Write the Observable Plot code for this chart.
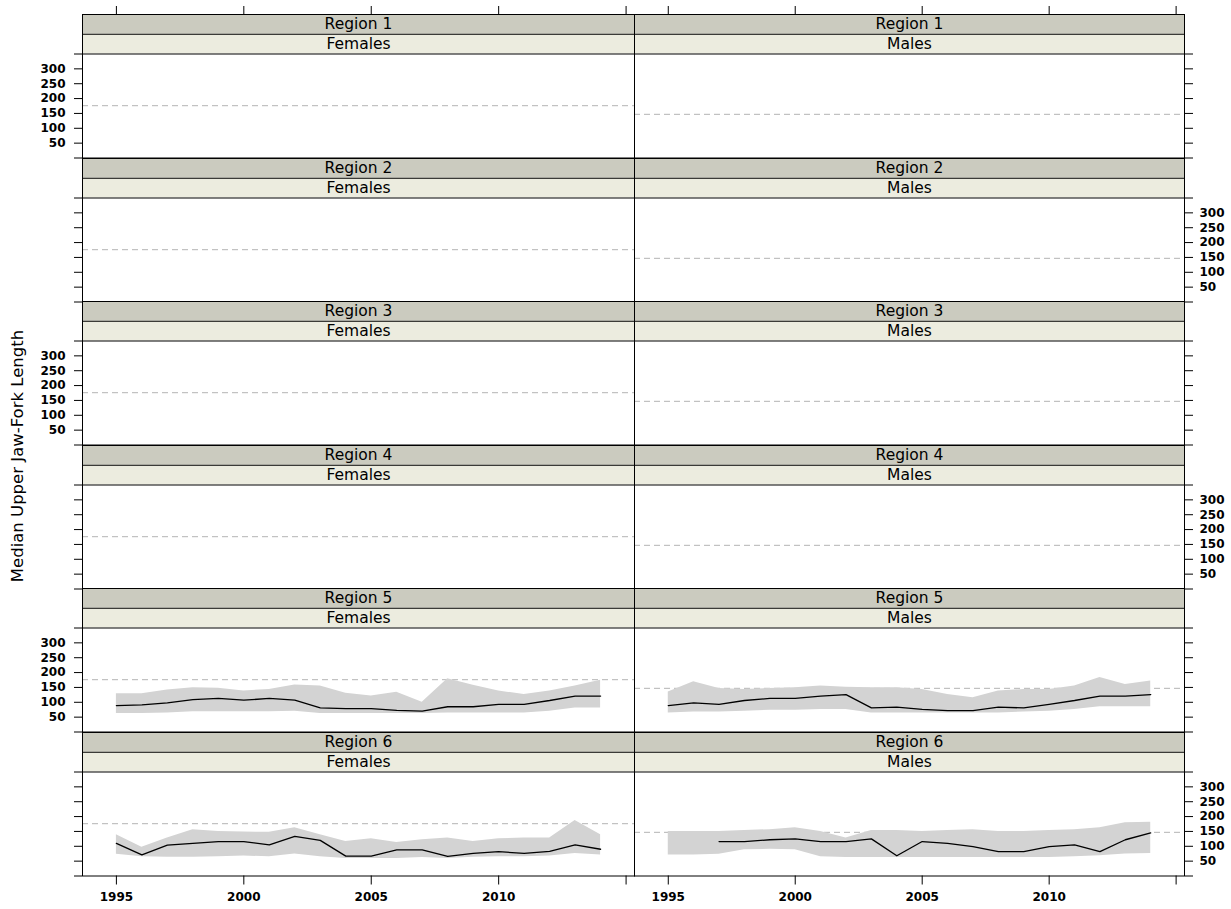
<!DOCTYPE html>
<html>
<head>
<meta charset="utf-8">
<script src="https://cdn.jsdelivr.net/npm/d3@7"></script>
<script src="https://cdn.jsdelivr.net/npm/@observablehq/plot@0.6"></script>
<style>
  body { margin: 0; background: #fff; }
  #wrap { position: relative; width: 1231px; height: 909px; overflow: hidden; font-family: "DejaVu Sans", sans-serif; }
  .cell { position: absolute; }
  #ylab { position: absolute; left: -142px; top: 446px; width: 320px; height: 20px; line-height: 20px;
          text-align: center; transform: rotate(-90deg); font-size: 16.5px; color: #000; white-space: nowrap; }
</style>
</head>
<body>
<div id="wrap"><div id="ylab">Median Upper Jaw-Fork Length</div></div>
<script>
// ---------- data ----------
const years = [1995,1996,1997,1998,1999,2000,2001,2002,2003,2004,2005,2006,2007,2008,2009,2010,2011,2012,2013,2014];
const regions = ["Region 1","Region 2","Region 3","Region 4","Region 5","Region 6"];
const sexes = ["Females","Males"];
const refFemales = 176;
const refMales = 147;
const yTicks = [0,50,100,150,200,250,300,350];
const yTickLabels = ["","50","100","150","200","250","300",""];
const xTicks = [1995,2000,2005,2010,2015];
const xTickLabels = ["1995","2000","2005","2010",""];
const yLabel = "Median Upper Jaw-Fork Length";

const r5FemMedian = [89,91,98,109,113,107,113,107,81,79,79,73,70,85,85,93,93,106,121,121];
const r5FemLow    = [62,62,64,68,68,68,68,70,62,62,62,62,62,64,64,64,64,70,81,81];
const r5FemHigh   = [129,129,141,149,147,138,143,158,155,130,121,134,100,179,157,138,126,138,155,174];

const r5MaleMedian = [89,98,93,106,113,113,121,126,81,84,76,72,72,84,81,93,106,121,121,126];
const r5MaleLow    = [64,67,67,70,73,73,76,76,64,64,64,64,64,64,67,70,76,85,85,85];
const r5MaleHigh   = [135,169,146,143,146,149,155,151,149,149,143,126,115,138,143,143,155,183,160,172];

const r6FemMedian = [110,71,104,110,116,116,105,133,120,67,67,88,88,66,76,82,76,83,105,90];
const r6FemLow    = [73,65,63,63,65,67,65,74,65,59,59,59,62,59,63,65,65,67,76,71];
const r6FemHigh   = [139,97,128,156,150,148,147,162,139,116,125,113,122,128,116,125,128,128,187,139];

const r6MaleMedian = [null,null,116,116,122,125,116,116,125,68,116,110,99,82,82,99,105,82,122,145];
const r6MaleLow    = [71,71,73,88,90,88,65,62,62,62,62,62,62,62,62,62,65,68,74,76];
const r6MaleHigh   = [150,150,150,153,156,162,150,128,153,153,150,153,156,150,150,153,156,162,179,181];

// build series tables
function table(med, lo, hi) {
  return years.map((y, i) => ({year: y, med: med[i], lo: lo[i], hi: hi[i]}));
}
const series = {
  "Region 5|Females": table(r5FemMedian, r5FemLow, r5FemHigh),
  "Region 5|Males": table(r5MaleMedian, r5MaleLow, r5MaleHigh),
  "Region 6|Females": table(r6FemMedian, r6FemLow, r6FemHigh),
  "Region 6|Males": table(r6MaleMedian, r6MaleLow, r6MaleHigh)
};

// ---------- layout ----------
const X0 = 82, XM = 634, X1 = 1184, W = 1231;
const P = 104, H = 19.75, T0 = 14;
const rowH = P + 2 * H;
const S = 350 * H / P;             // strip height in data units
const yMax = 350 + 2 * S;
const xDomain = [1993.67, 2015.33];
const xMid = (xDomain[0] + xDomain[1]) / 2;

const wrap = document.getElementById("wrap");

regions.forEach((region, r) => {
  sexes.forEach((sex, c) => {
    const mt = r === 0 ? 12 : 0;
    const mb = r === regions.length - 1 ? 34 : 0;
    const left = c === 0 ? 0 : XM;
    const width = c === 0 ? XM : W - XM;
    const marginLeft = c === 0 ? X0 : 0;
    const marginRight = c === 0 ? 0 : width - (X1 - XM);
    const ref = sex === "Females" ? refFemales : refMales;
    const data = series[region + "|" + sex];
    const labelSide = (r % 2 === 0) ? "left" : "right";
    const tickSide = c === 0 ? "left" : "right";

    const marks = [
      Plot.rect([region], {x1: xDomain[0], x2: xDomain[1], y1: 350 + S, y2: yMax, fill: "#cbcbbf"}),
      Plot.rect([sex], {x1: xDomain[0], x2: xDomain[1], y1: 350, y2: 350 + S, fill: "#ececdf"}),
      Plot.text([region], {x: xMid, y: 350 + 1.5 * S, text: d => d, fontSize: 15.5, fill: "#000"}),
      Plot.text([sex], {x: xMid, y: 350 + 0.5 * S, text: d => d, fontSize: 15.5, fill: "#000"}),
      Plot.ruleY([ref], {stroke: "#b4b4b4", strokeDasharray: "6,4", strokeWidth: 1})
    ];
    if (data) {
      marks.push(Plot.areaY(data, {x: "year", y1: "lo", y2: "hi", fill: "#d3d3d3"}));
      marks.push(Plot.line(data, {x: "year", y: "med", stroke: "#000", strokeWidth: 1.3}));
    }
    marks.push(Plot.ruleY([350, 350 + S], {stroke: "#000", strokeWidth: 1}));
    marks.push(Plot.frame({stroke: "#000", strokeWidth: 1}));
    marks.push(Plot.axisY({
      anchor: tickSide, ticks: yTicks, tickSize: 8, tickPadding: tickSide === "left" ? 9 : 7,
      fontSize: 12, fontWeight: "bold", label: null,
      tickFormat: (d) => (tickSide === labelSide ? yTickLabels[yTicks.indexOf(d)] : "")
    }));
    let xOpt = {domain: xDomain};
    if (r === 0) {
      marks.push(Plot.axisX({anchor: "top", ticks: xTicks, tickSize: 9, tickFormat: () => "", label: null}));
    } else if (r === regions.length - 1) {
      marks.push(Plot.axisX({anchor: "bottom", ticks: xTicks, tickSize: 9, tickPadding: 7, fontSize: 12,
        fontWeight: "bold", label: null,
        tickFormat: (d) => xTickLabels[xTicks.indexOf(d)]}));
    } else {
      xOpt.axis = null;
    }

    const chart = Plot.plot({
      width, height: rowH + mt + mb,
      marginLeft, marginRight, marginTop: mt, marginBottom: mb,
      x: xOpt,
      y: {domain: [0, yMax]},
      style: {fontFamily: "DejaVu Sans, sans-serif", fontSize: "13px", background: "transparent", overflow: "visible", color: "#000"},
      marks
    });
    const div = document.createElement("div");
    div.className = "cell";
    div.style.left = left + "px";
    div.style.top = (T0 + r * rowH - mt) + "px";
    div.appendChild(chart);
    wrap.appendChild(div);
  });
});
</script>
</body>
</html>
